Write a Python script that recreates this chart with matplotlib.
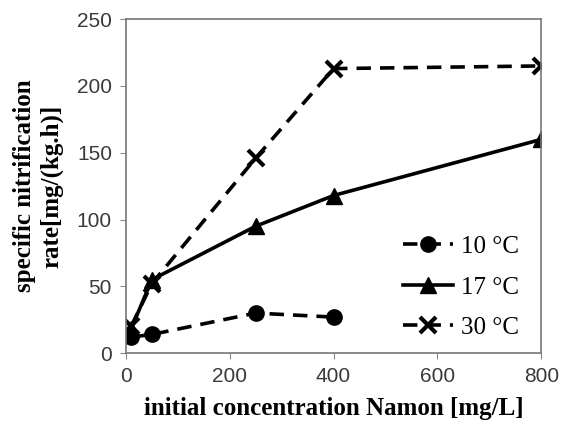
import matplotlib
matplotlib.use('Agg')
import matplotlib.pyplot as plt

x10 = [10, 50, 250, 400]
y10 = [12, 14, 30, 27]
x17 = [10, 50, 250, 400, 800]
y17 = [18, 55, 95, 118, 160]
x30 = [10, 50, 250, 400, 800]
y30 = [20, 52, 146, 213, 215]
xticks = [0, 200, 400, 600, 800]
yticks = [0, 50, 100, 150, 200, 250]

fig = plt.figure(figsize=(5.62, 4.26), dpi=100)
ax = fig.add_axes([0.224, 0.171, 0.739, 0.784])

ax.plot(x10, y10, color='black', lw=2.6, ls=(0, (4, 2.5)), marker='o', ms=11, label='10 \u00b0C')
ax.plot(x17, y17, color='black', lw=2.6, ls='-', marker='^', ms=11, label='17 \u00b0C')
ax.plot(x30, y30, color='black', lw=2.6, ls=(0, (4, 2.5)), marker='x', ms=12, mew=3, label='30 \u00b0C')

ax.set_xlim(0, 800)
ax.set_ylim(0, 250)
ax.set_xticks(xticks)
ax.set_yticks(yticks)
ax.tick_params(direction='out', length=4, color='#888888', labelsize=15, labelcolor='#3a3a3a', pad=6)
for lab in ax.get_xticklabels() + ax.get_yticklabels():
    lab.set_family('Liberation Sans')
for s in ax.spines.values():
    s.set_color('#777777')
    s.set_linewidth(1.2)

ax.set_xlabel('initial concentration Namon [mg/L]', family='Liberation Serif', fontweight='bold', fontsize=18, labelpad=8)
ax.set_ylabel('specific nitrification\nrate[mg/(kg.h)]', family='Liberation Serif', fontweight='bold', fontsize=18, labelpad=10)

ax.legend(loc='lower right', bbox_to_anchor=(1.0, -0.025), frameon=False, handlelength=2.0, handletextpad=0.3,
          labelspacing=0.72, prop={'family': 'Liberation Serif', 'size': 18})

fig.savefig('out.png', dpi=100)
